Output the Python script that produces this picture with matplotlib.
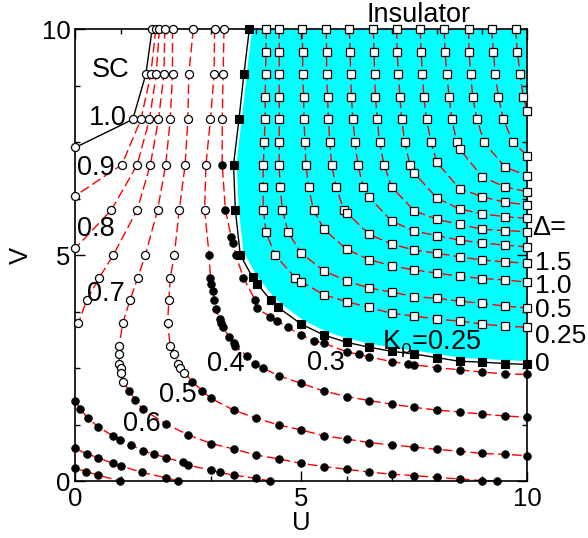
import numpy as np
from matplotlib import pyplot as plt
from matplotlib.ticker import MultipleLocator

plt.rcParams["font.family"] = ["Liberation Sans", "DejaVu Sans"]
plt.rcParams["font.size"] = 19.5
plt.rcParams["mathtext.fontset"] = "custom"
plt.rcParams["mathtext.rm"] = "Liberation Sans"
plt.rcParams["mathtext.it"] = "Liberation Sans"

# K_rho contours in the metallic phase, points ordered from top (V=10) down
# the first n_open points of every line are open circles, the rest filled
k10_u = [1.70, 1.56, 1.27, 0.0]
k10_v = [10.0, 9.0, 8.0, 7.38]
k10_open = 4

k09_u = [1.78, 1.67, 1.45, 1.03, 0.0]
k09_v = [10.0, 9.0, 8.0, 7.0, 6.31]
k09_open = 5

k08_u = [1.86, 1.79, 1.64, 1.37, 0.80, 0.0]
k08_v = [10.0, 9.0, 8.0, 7.0, 6.0, 5.15]
k08_open = 6

k07_u = [1.98, 1.96, 1.84, 1.66, 1.37, 0.84, 0.53, 0.25, 0.07]
k07_v = [10.0, 9.0, 8.0, 7.0, 6.0, 5.0, 4.5, 4.0, 3.5]
k07_open = 9

k06_u = [2.15, 2.15, 2.10, 2.00, 1.82, 1.55, 1.38, 1.21, 1.05, 0.97, 0.97, 0.97,
         1.00, 1.00, 1.06, 1.19, 1.33, 1.49, 2.01, 2.50, 3.00, 3.50, 4.00, 4.50,
         5.00, 5.50, 6.00, 6.50, 7.00, 7.50, 8.00, 8.50, 9.00, 9.34]
k06_v = [10.0, 9.0, 8.0, 7.0, 6.0, 5.0, 4.5, 4.0, 3.5, 2.99, 2.80, 2.60,
         2.51, 2.40, 2.20, 2.00, 1.79, 1.59, 1.26, 1.02, 0.83, 0.71, 0.575, 0.49,
         0.39, 0.32, 0.26, 0.20, 0.15, 0.12, 0.08, 0.045, 0.01, 0.0]
k06_open = 15

k05_u = [2.61, 2.51, 2.49, 2.43, 2.30, 2.19, 2.10, 2.07, 2.04, 2.10, 2.19, 2.28,
         2.32, 2.41, 2.59, 2.80, 3.00, 3.50, 4.00, 4.50, 5.00, 5.50, 6.00, 6.50,
         7.00, 7.50, 8.00, 8.50, 9.00, 9.50, 10.0]
k05_v = [10.0, 9.0, 8.0, 7.0, 6.0, 5.0, 4.5, 4.0, 3.5, 2.99, 2.80, 2.60,
         2.51, 2.40, 2.20, 2.00, 1.83, 1.57, 1.39, 1.24, 1.13, 1.00, 0.93, 0.85,
         0.80, 0.75, 0.70, 0.66, 0.61, 0.59, 0.56]
k05_open = 14

k04_u = [3.08, 3.07, 2.99, 2.89, 2.86, 2.96, 2.99, 3.01, 3.04, 3.07, 3.11, 3.19,
         3.22, 3.26, 3.41, 3.50, 3.54, 3.79, 3.98, 4.16, 4.50, 5.00, 5.50, 6.00,
         6.50, 7.00, 7.50, 8.00, 8.50, 9.00, 9.50, 10.0]
k04_v = [10.0, 9.0, 8.0, 7.0, 6.0, 5.0, 4.5, 4.37, 4.21, 4.0, 3.80, 3.58,
         3.50, 3.40, 3.19, 3.05, 2.99, 2.77, 2.60, 2.49, 2.33, 2.16, 1.99, 1.87,
         1.78, 1.70, 1.63, 1.57, 1.53, 1.48, 1.44, 1.41]
k04_open = 5

k03_u = [3.29, 3.27, 3.25, 3.25, 3.32, 3.45, 3.49, 3.55, 3.72, 3.98, 4.01, 4.31,
         4.46, 4.70, 5.00, 5.28, 5.50, 6.00, 6.28, 6.50, 7.00, 7.37, 7.50, 8.00,
         8.50, 9.00, 9.50, 10.0]
k03_v = [10.0, 9.0, 8.0, 7.0, 6.0, 5.40, 5.27, 5.0, 4.5, 4.0, 3.82, 3.64,
         3.55, 3.40, 3.23, 3.10, 3.05, 2.86, 2.80, 2.75, 2.64, 2.59, 2.57, 2.51,
         2.46, 2.41, 2.37, 2.36]
k03_open = 3

# lines starting on the U=0 axis near the bottom (all filled)
b1_u = [0.0, 0.11, 0.27, 0.50, 0.83, 0.99, 1.23, 1.49, 1.74, 2.01, 2.38, 2.50,
        3.00, 3.20, 3.50, 4.00, 4.31]
b1_v = [1.78, 1.59, 1.40, 1.20, 1.00, 0.91, 0.80, 0.67, 0.59, 0.52, 0.41, 0.35,
        0.24, 0.19, 0.13, 0.06, 0.0]
b2_u = [0.0, 0.25, 0.50, 0.83, 1.00, 1.47, 2.01, 2.28]
b2_v = [0.72, 0.60, 0.52, 0.39, 0.34, 0.19, 0.07, 0.0]
b3_u = [0.0, 0.24, 0.50, 0.99]
b3_v = [0.28, 0.21, 0.13, 0.0]

# metal-insulator boundary (K_rho = 0.25)
bd_u = [3.85, 3.73, 3.62, 3.50, 3.54, 3.65, 3.92, 4.02, 4.32, 4.49, 5.00, 5.50,
        6.00, 6.50, 7.00, 7.50, 8.00, 8.50, 9.00, 9.50, 10.0]
bd_v = [10.0, 9.0, 8.0, 7.0, 6.0, 5.0, 4.51, 4.37, 4.00, 3.84, 3.47, 3.23,
        3.07, 2.96, 2.87, 2.81, 2.73, 2.65, 2.63, 2.60, 2.58]

# gap contours (open squares) in the insulating phase
d01_u = [4.22, 4.22, 4.21, 4.20, 4.20, 4.18, 4.16, 4.15, 4.16, 4.22, 4.42, 4.86,
         5.0, 5.5, 6.0, 6.5, 7.0, 7.5, 8.0, 8.5, 9.0, 9.5, 10.0]
d01_v = [10.0, 9.5, 9.0, 8.5, 8.0, 7.5, 7.0, 6.5, 6.0, 5.5, 5.0, 4.5,
         4.41, 4.12, 3.97, 3.84, 3.71, 3.65, 3.58, 3.54, 3.47, 3.43, 3.40]
d02_u = [4.51, 4.51, 4.51, 4.51, 4.51, 4.51, 4.51, 4.53, 4.58, 4.71, 5.0, 5.5,
         6.0, 6.5, 7.0, 7.5, 8.0, 8.5, 9.0, 9.5, 10.0]
d02_v = [10.0, 9.5, 9.0, 8.5, 8.0, 7.5, 7.0, 6.5, 6.0, 5.5, 5.04, 4.65,
         4.43, 4.27, 4.18, 4.08, 4.04, 3.98, 3.93, 3.87, 3.83]
d03_u = [5.02, 5.03, 5.03, 5.05, 5.06, 5.08, 5.10, 5.16, 5.27, 5.5, 6.0, 6.5,
         7.0, 7.5, 8.0, 8.5, 9.0, 9.5, 10.0]
d03_v = [10.0, 9.5, 9.0, 8.5, 8.0, 7.5, 7.0, 6.5, 6.0, 5.57, 5.13, 4.90,
         4.76, 4.67, 4.60, 4.53, 4.48, 4.45, 4.40]
d04_u = [5.55, 5.56, 5.56, 5.58, 5.60, 5.63, 5.67, 5.77, 5.94, 6.0, 6.5, 7.0,
         7.5, 8.0, 8.5, 9.0, 9.5, 10.0]
d04_v = [10.0, 9.5, 9.0, 8.5, 8.0, 7.5, 7.0, 6.5, 6.0, 5.94, 5.46, 5.24,
         5.11, 5.04, 4.96, 4.89, 4.85, 4.82]
d05_u = [6.06, 6.08, 6.09, 6.11, 6.14, 6.19, 6.25, 6.37, 6.5, 7.0, 7.5, 8.0,
         8.5, 9.0, 9.5, 10.0]
d05_v = [10.0, 9.5, 9.0, 8.5, 8.0, 7.5, 7.0, 6.5, 6.28, 5.75, 5.53, 5.43,
         5.33, 5.27, 5.22, 5.18]
d06_u = [6.59, 6.61, 6.62, 6.64, 6.68, 6.73, 6.83, 7.0, 7.5, 8.0, 8.5, 9.0, 9.5, 10.0]
d06_v = [10.0, 9.5, 9.0, 8.5, 8.0, 7.5, 7.0, 6.5, 5.98, 5.79, 5.68, 5.57, 5.54, 5.52]
d07_u = [7.11, 7.12, 7.15, 7.18, 7.22, 7.29, 7.40, 7.5, 8.0, 8.5, 9.0, 9.5, 10.0]
d07_v = [10.0, 9.5, 9.0, 8.5, 8.0, 7.5, 7.0, 6.81, 6.26, 6.02, 5.91, 5.85, 5.81]
d08_u = [7.63, 7.65, 7.68, 7.71, 7.77, 7.87, 8.0, 8.5, 9.0, 9.5, 10.0]
d08_v = [10.0, 9.5, 9.0, 8.5, 8.0, 7.5, 7.05, 6.47, 6.29, 6.17, 6.11]
d09_u = [8.16, 8.18, 8.22, 8.27, 8.33, 8.44, 8.5, 9.0, 9.5, 10.0]
d09_v = [10.0, 9.5, 9.0, 8.5, 8.0, 7.5, 7.35, 6.73, 6.51, 6.40]
d10_u = [8.70, 8.71, 8.75, 8.79, 8.89, 9.04, 9.5, 10.0]
d10_v = [10.0, 9.5, 9.0, 8.5, 8.0, 7.5, 6.95, 6.75]
d11_u = [9.21, 9.25, 9.29, 9.36, 9.47, 9.68, 10.0]
d11_v = [10.0, 9.5, 9.0, 8.5, 8.0, 7.5, 7.20]
d12_u = [9.74, 9.78, 9.84, 9.91, 10.0]
d12_v = [10.0, 9.5, 9.0, 8.5, 8.19]

krho_labels = ["1.0", "0.9", "0.8", "0.7", "0.6", "0.5", "0.4", "0.3"]
delta_labels = ["1.5", "1.0", "0.5", "0.25", "0"]

RED_DASH = (0, (7, 3))

fig = plt.figure(figsize=(5.88, 5.38), dpi=100)
ax = fig.add_axes([0.1281, 0.1059, 0.7687, 0.8401])

# cyan insulating region, kept a hair away from the boundary line
gap = 0.07
fill_u = [u + gap for u in bd_u] + [10.5, 10.5]
fill_v = [v + gap for v in bd_v] + [bd_v[-1] + gap, 10.5]
fill_u = fill_u + [bd_u[0] + gap]
fill_v = fill_v + [10.5]
ax.fill(fill_u, fill_v, color="#00ffff", lw=0, zorder=1)

metal = [(k10_u, k10_v, k10_open), (k09_u, k09_v, k09_open), (k08_u, k08_v, k08_open),
         (k07_u, k07_v, k07_open), (k06_u, k06_v, k06_open), (k05_u, k05_v, k05_open),
         (k04_u, k04_v, k04_open), (k03_u, k03_v, k03_open),
         (b1_u, b1_v, 0), (b2_u, b2_v, 0), (b3_u, b3_v, 0)]
gaps = [(d01_u, d01_v), (d02_u, d02_v), (d03_u, d03_v), (d04_u, d04_v),
        (d05_u, d05_v), (d06_u, d06_v), (d07_u, d07_v), (d08_u, d08_v),
        (d09_u, d09_v), (d10_u, d10_v), (d11_u, d11_v), (d12_u, d12_v)]

# dashed red curves first
for i, (u, v, n_open) in enumerate(metal):
    if i == 0:
        continue  # SC boundary is drawn solid black below
    ax.plot(u, v, color="red", lw=1.0, linestyle=RED_DASH, zorder=2, clip_on=False)
for u, v in gaps:
    ax.plot(u, v, color="red", lw=1.0, linestyle=RED_DASH, zorder=2, clip_on=False)

# solid black phase boundaries
ax.plot(k10_u, k10_v, color="black", lw=1.0, zorder=3, clip_on=False)
ax.plot(bd_u, bd_v, color="black", lw=1.0, zorder=3, clip_on=False)

# markers on top
for u, v, n_open in metal:
    ax.plot(u[:n_open], v[:n_open], "o", ms=5.8, mfc="white", mec="black", mew=0.9,
            zorder=4, clip_on=False)
    ax.plot(u[n_open:], v[n_open:], "o", ms=5.3, mfc="black", mec="black", mew=0.8,
            zorder=4, clip_on=False)
for u, v in gaps:
    ax.plot(u, v, "s", ms=5.6, mfc="white", mec="black", mew=0.9, zorder=4, clip_on=False)
ax.plot(bd_u, bd_v, "s", ms=5.6, mfc="black", mec="black", mew=0.8, zorder=4, clip_on=False)

# labels inside the plot
ax.text(0.36, 8.94, "SC", ha="left", va="baseline")
ax.text(6.45, 10.16, "Insulator", ha="left", va="baseline", clip_on=False)
label_pos = [(0.29, 7.87), (0.03, 6.77), (0.03, 5.42), (0.25, 3.98),
             (1.05, 1.11), (1.86, 1.75), (2.91, 2.44), (5.12, 2.46)]
for txt, (x, y) in zip(krho_labels, label_pos):
    ax.text(x, y, txt, ha="left", va="baseline", zorder=5)
ax.text(6.78, 2.91, r"K$_{\rho}$=0.25", ha="left", va="baseline", zorder=5)

# Delta labels on the right side
ax.text(10.10, 5.45, "\u0394=", ha="left", va="baseline", clip_on=False)
delta_pos = [4.66, 4.17, 3.62, 3.06, 2.44]
for txt, y in zip(delta_labels, delta_pos):
    ax.text(10.17, y, txt, ha="left", va="baseline", fontsize=19, clip_on=False)

ax.set_xlim(0, 10)
ax.set_ylim(0, 10)
ax.set_xticks([0, 5, 10])
ax.set_yticks([0, 5, 10])
ax.xaxis.set_minor_locator(MultipleLocator(1))
ax.yaxis.set_minor_locator(MultipleLocator(1.25))
ax.tick_params(which="both", direction="in", top=True, right=True, width=1.0)
ax.tick_params(which="major", length=7, labelsize=18.5)
ax.tick_params(which="minor", length=3.5)
ax.tick_params(axis="x", pad=4)
ax.tick_params(axis="y", pad=3.5)
for sp in ax.spines.values():
    sp.set_linewidth(1.2)

ax.set_xlabel("U", fontsize=18.5, labelpad=0)
ax.set_ylabel("V", fontsize=18.5, labelpad=6)

fig.savefig("out.png", dpi=100)
